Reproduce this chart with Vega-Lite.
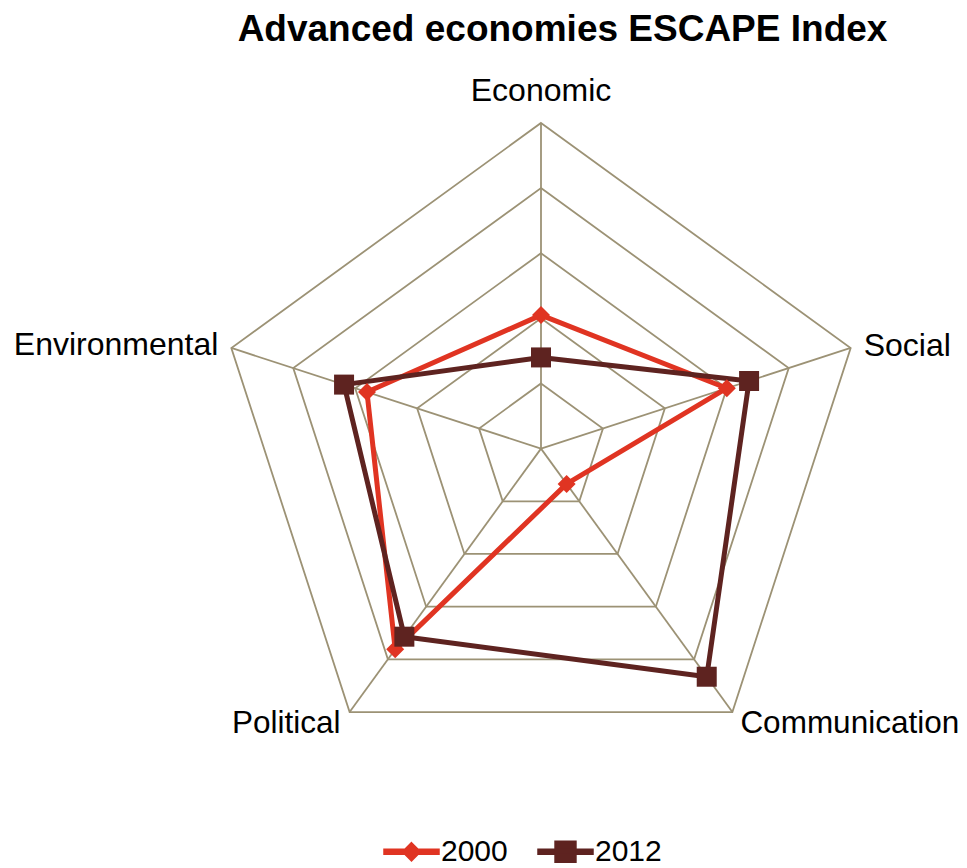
{
  "$schema": "https://vega.github.io/schema/vega-lite/v6.json",
  "width": 967,
  "height": 808,
  "autosize": {"type": "none"},
  "padding": {"left": 0, "top": 60, "right": 0, "bottom": 0},
  "background": "white",
  "config": {"view": {"stroke": null}, "font": "Liberation Sans"},
  "title": {
    "text": "Advanced economies ESCAPE Index",
    "font": "Liberation Sans",
    "fontSize": 37,
    "fontWeight": "bold",
    "color": "black",
    "anchor": "middle",
    "frame": "group",
    "baseline": "alphabetic",
    "offset": 13,
    "dx": 79,
    "dy": 31
  },
  "datasets": {
    "scores": [
      {"axis": "Economic", "year": "2000", "value": 2.05},
      {"axis": "Social", "year": "2000", "value": 3.0},
      {"axis": "Communication", "year": "2000", "value": 0.67},
      {"axis": "Political", "year": "2000", "value": 3.81},
      {"axis": "Environmental", "year": "2000", "value": 2.81},
      {"axis": "Economic", "year": "2012", "value": 1.4},
      {"axis": "Social", "year": "2012", "value": 3.36},
      {"axis": "Communication", "year": "2012", "value": 4.33},
      {"axis": "Political", "year": "2012", "value": 3.57},
      {"axis": "Environmental", "year": "2012", "value": 3.18}
    ],
    "rings": [
      {"ring": 1, "axis": ["Economic", "Social", "Communication", "Political", "Environmental"]},
      {"ring": 2, "axis": ["Economic", "Social", "Communication", "Political", "Environmental"]},
      {"ring": 3, "axis": ["Economic", "Social", "Communication", "Political", "Environmental"]},
      {"ring": 4, "axis": ["Economic", "Social", "Communication", "Political", "Environmental"]},
      {"ring": 5, "axis": ["Economic", "Social", "Communication", "Political", "Environmental"]}
    ],
    "axes": [
      {"axis": "Economic", "r": 5},
      {"axis": "Social", "r": 5},
      {"axis": "Communication", "r": 5},
      {"axis": "Political", "r": 5},
      {"axis": "Environmental", "r": 5}
    ]
  },
  "encoding": {
    "x": {"field": "x", "type": "quantitative", "scale": {"domain": [-8.308, 6.542], "nice": false, "zero": false}, "axis": null},
    "y": {"field": "y", "type": "quantitative", "scale": {"domain": [-6.44, 5.967], "nice": false, "zero": false}, "axis": null}
  },
  "layer": [
    {
      "data": {"name": "rings"},
      "transform": [
        {"flatten": ["axis"]},
        {"calculate": "indexof(['Economic','Social','Communication','Political','Environmental'], datum.axis)", "as": "k"},
        {"calculate": "PI/2 - 2*PI*datum.k/5", "as": "a"},
        {"calculate": "datum.ring*cos(datum.a)", "as": "x"},
        {"calculate": "datum.ring*sin(datum.a)", "as": "y"}
      ],
      "mark": {"type": "line", "interpolate": "linear-closed", "stroke": "#9C9275", "strokeWidth": 1.8},
      "encoding": {
        "detail": {"field": "ring", "type": "nominal"},
        "order": {"field": "k", "type": "quantitative"}
      }
    },
    {
      "data": {"name": "axes"},
      "transform": [
        {"calculate": "indexof(['Economic','Social','Communication','Political','Environmental'], datum.axis)", "as": "k"},
        {"calculate": "PI/2 - 2*PI*datum.k/5", "as": "a"},
        {"calculate": "datum.r*cos(datum.a)", "as": "x"},
        {"calculate": "datum.r*sin(datum.a)", "as": "y"}
      ],
      "mark": {"type": "rule", "stroke": "#9C9275", "strokeWidth": 1.8},
      "encoding": {
        "x2": {"datum": 0},
        "y2": {"datum": 0}
      }
    },
    {
      "data": {"name": "axes"},
      "transform": [
        {"filter": "datum.axis === 'Economic'"},
        {"calculate": "0", "as": "x"},
        {"calculate": "datum.r", "as": "y"}
      ],
      "mark": {"type": "text", "align": "center", "baseline": "alphabetic", "dy": -22, "fontSize": 32, "font": "Liberation Sans", "color": "black"},
      "encoding": {"text": {"field": "axis"}}
    },
    {
      "data": {"name": "axes"},
      "transform": [
        {"filter": "datum.axis === 'Social'"},
        {"calculate": "datum.r*cos(PI/2 - 2*PI/5)", "as": "x"},
        {"calculate": "datum.r*sin(PI/2 - 2*PI/5)", "as": "y"}
      ],
      "mark": {"type": "text", "align": "left", "baseline": "alphabetic", "dx": 13, "dy": 8, "fontSize": 32, "font": "Liberation Sans", "color": "black"},
      "encoding": {"text": {"field": "axis"}}
    },
    {
      "data": {"name": "axes"},
      "transform": [
        {"filter": "datum.axis === 'Communication'"},
        {"calculate": "datum.r*cos(PI/2 - 4*PI/5)", "as": "x"},
        {"calculate": "datum.r*sin(PI/2 - 4*PI/5)", "as": "y"}
      ],
      "mark": {"type": "text", "align": "left", "baseline": "alphabetic", "dx": 8, "dy": 21, "fontSize": 31.5, "font": "Liberation Sans", "color": "black"},
      "encoding": {"text": {"field": "axis"}}
    },
    {
      "data": {"name": "axes"},
      "transform": [
        {"filter": "datum.axis === 'Political'"},
        {"calculate": "datum.r*cos(PI/2 - 6*PI/5)", "as": "x"},
        {"calculate": "datum.r*sin(PI/2 - 6*PI/5)", "as": "y"}
      ],
      "mark": {"type": "text", "align": "right", "baseline": "alphabetic", "dx": -9, "dy": 21, "fontSize": 31.5, "font": "Liberation Sans", "color": "black"},
      "encoding": {"text": {"field": "axis"}}
    },
    {
      "data": {"name": "axes"},
      "transform": [
        {"filter": "datum.axis === 'Environmental'"},
        {"calculate": "datum.r*cos(PI/2 - 8*PI/5)", "as": "x"},
        {"calculate": "datum.r*sin(PI/2 - 8*PI/5)", "as": "y"}
      ],
      "mark": {"type": "text", "align": "right", "baseline": "alphabetic", "dx": -13, "dy": 7, "fontSize": 32, "font": "Liberation Sans", "color": "black"},
      "encoding": {"text": {"field": "axis"}}
    },
    {
      "data": {"name": "scores"},
      "transform": [
        {"calculate": "indexof(['Economic','Social','Communication','Political','Environmental'], datum.axis)", "as": "k"},
        {"calculate": "PI/2 - 2*PI*datum.k/5", "as": "a"},
        {"calculate": "datum.value*cos(datum.a)", "as": "x"},
        {"calculate": "datum.value*sin(datum.a)", "as": "y"}
      ],
      "mark": {"type": "line", "interpolate": "linear-closed", "strokeWidth": 5, "strokeJoin": "round"},
      "encoding": {
        "color": {"field": "year", "type": "nominal", "scale": {"domain": ["2000", "2012"], "range": ["#E03422", "#5E2320"]}},
        "detail": {"field": "year", "type": "nominal"},
        "order": {"field": "k", "type": "quantitative"}
      }
    },
    {
      "data": {"name": "scores"},
      "transform": [
        {"filter": "datum.year === '2000'"},
        {"calculate": "indexof(['Economic','Social','Communication','Political','Environmental'], datum.axis)", "as": "k"},
        {"calculate": "PI/2 - 2*PI*datum.k/5", "as": "a"},
        {"calculate": "datum.value*cos(datum.a)", "as": "x"},
        {"calculate": "datum.value*sin(datum.a)", "as": "y"}
      ],
      "mark": {"type": "point", "filled": true, "opacity": 1, "size": 400, "shape": "M0,-0.9L0.9,0L0,0.9L-0.9,0Z", "color": "#E03422"}
    },
    {
      "data": {"name": "scores"},
      "transform": [
        {"filter": "datum.year === '2012'"},
        {"calculate": "indexof(['Economic','Social','Communication','Political','Environmental'], datum.axis)", "as": "k"},
        {"calculate": "PI/2 - 2*PI*datum.k/5", "as": "a"},
        {"calculate": "datum.value*cos(datum.a)", "as": "x"},
        {"calculate": "datum.value*sin(datum.a)", "as": "y"}
      ],
      "mark": {"type": "point", "filled": true, "opacity": 1, "size": 400, "shape": "square", "color": "#5E2320"}
    },
    {
      "data": {"name": "scores"},
      "transform": [
        {"calculate": "indexof(['Economic','Social','Communication','Political','Environmental'], datum.axis)", "as": "k"},
        {"calculate": "PI/2 - 2*PI*datum.k/5", "as": "a"},
        {"calculate": "datum.value*cos(datum.a)", "as": "x"},
        {"calculate": "datum.value*sin(datum.a)", "as": "y"}
      ],
      "mark": {"type": "point", "filled": true, "opacity": 0},
      "encoding": {
        "color": {
          "field": "year", "type": "nominal",
          "scale": {"domain": ["2000", "2012"], "range": ["#E03422", "#5E2320"]},
          "legend": {
            "title": null, "orient": "none", "direction": "horizontal", "columns": 2,
            "legendX": 383, "legendY": 763, "padding": 0,
            "labelFontSize": 30, "labelFont": "Liberation Sans", "labelColor": "black",
            "labelOffset": 1, "columnPadding": 27, "symbolSize": 3025, "symbolOpacity": 1
          }
        },
        "shape": {
          "field": "year", "type": "nominal",
          "scale": {"domain": ["2000", "2012"], "range": [
            "M-1,-0.09L1,-0.09L1,0.09L-1,0.09ZM0,-0.33L0.33,0L0,0.33L-0.33,0Z",
            "M-1,-0.09L1,-0.09L1,0.09L-1,0.09ZM-0.38,-0.38L0.38,-0.38L0.38,0.38L-0.38,0.38Z"
          ]},
          "legend": {
            "title": null, "orient": "none", "direction": "horizontal", "columns": 2,
            "legendX": 383, "legendY": 763, "padding": 0,
            "labelFontSize": 30, "labelFont": "Liberation Sans", "labelColor": "black",
            "labelOffset": 1, "columnPadding": 27, "symbolSize": 3025, "symbolOpacity": 1
          }
        }
      }
    }
  ]
}
